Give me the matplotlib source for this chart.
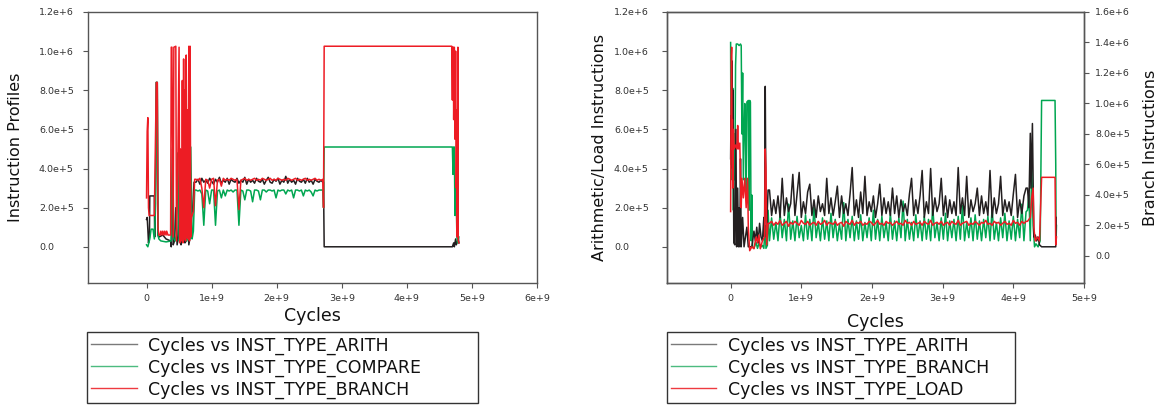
import numpy as np
import matplotlib
matplotlib.use('Agg')
import matplotlib.pyplot as plt
from matplotlib.lines import Line2D

plt.rcParams['font.family'] = ['DejaVu Sans']

# units: cycles in 1e9, instruction counts in 1e5
CYC = 1e9
INS = 1e5

BLACK = '#231f20'
GREEN = '#00a651'
RED = '#ed1c24'

# ---------------- left chart : Instruction Profiles ----------------
arith_l_start = [(0.0, 1.4), (0.01, 1.5), (0.02, 0.9), (0.03, 0.2), (0.045, 0.5), (0.05, 2.6),
                 (0.12, 2.6), (0.125, 0.5), (0.14, 4.0), (0.15, 8.4), (0.165, 8.4), (0.175, 0.6),
                 (0.19, 0.5), (0.25, 0.6), (0.3, 0.4), (0.37, 0.3), (0.38, 0.0), (0.40, 5.0),
                 (0.41, 0.1), (0.43, 0.3), (0.45, 2.0), (0.47, 0.1), (0.49, 0.5), (0.51, 4.5),
                 (0.53, 0.1), (0.55, 0.4), (0.57, 5.0), (0.59, 0.2), (0.61, 0.3), (0.63, 2.0),
                 (0.65, 0.1), (0.67, 0.5), (0.69, 1.5), (0.71, 2.0), (0.73, 3.3)]
arith_l_mid = [3.3, 3.45, 3.2, 3.5, 3.3, 3.4, 3.25, 3.5, 3.35, 3.2,
               3.45, 3.3, 3.55, 3.25, 3.4, 3.3, 3.5, 3.2, 3.45, 3.35,
               3.3, 3.5, 3.25, 3.4, 3.3, 3.55, 3.2, 3.45, 3.3, 3.4,
               3.25, 3.5, 3.35, 3.3, 3.45, 3.2, 3.4, 3.55, 3.3, 3.25,
               3.45, 3.35, 3.5, 3.2, 3.4, 3.3, 3.6, 3.25, 3.45, 3.3,
               3.4, 3.2, 3.5, 3.35, 3.3, 3.45, 3.25, 3.5, 3.3, 3.4,
               3.2, 3.45, 3.35, 3.3, 3.4, 3.3]
arith_l_end = [(2.72, 3.3), (2.725, 1.6), (2.73, 0.0), (4.70, 0.0), (4.72, 0.2), (4.73, 0.0),
               (4.75, 0.4), (4.76, 0.1), (4.78, 0.3), (4.79, 0.5), (4.80, 0.2)]

compare_l_start = [(0.0, 0.1), (0.02, 0.0), (0.035, 0.2), (0.05, 0.4), (0.07, 0.9), (0.10, 0.9),
                   (0.12, 0.4), (0.14, 2.2), (0.15, 8.4), (0.165, 8.4), (0.175, 0.6), (0.19, 0.4),
                   (0.22, 0.3), (0.30, 0.25), (0.38, 0.3), (0.40, 5.1), (0.42, 0.4), (0.44, 0.3),
                   (0.46, 0.6), (0.48, 4.8), (0.50, 0.3), (0.52, 0.5), (0.54, 1.0), (0.56, 0.4),
                   (0.58, 5.1), (0.60, 0.5), (0.62, 0.3), (0.64, 0.6), (0.66, 0.4), (0.68, 5.1),
                   (0.70, 0.4), (0.72, 0.8), (0.74, 2.9)]
compare_l_mid = [2.9, 2.85, 2.9, 2.7, 1.1, 2.9, 2.85, 2.2, 2.9, 2.9,
                 1.1, 2.85, 2.9, 2.5, 2.9, 2.6, 2.9, 2.85, 2.9, 2.8,
                 2.9, 2.9, 1.1, 2.9, 2.85, 2.4, 2.9, 2.9, 2.85, 2.3,
                 2.9, 2.9, 2.85, 2.4, 2.9, 2.9, 2.8, 2.9, 2.9, 2.85,
                 2.9, 2.5, 2.9, 2.85, 2.9, 2.9, 2.7, 2.9, 2.85, 2.9,
                 2.5, 2.9, 2.9, 2.85, 2.9, 2.6, 2.9, 2.85, 2.9, 2.8,
                 2.6, 2.9, 2.85, 2.9, 2.9, 2.9]
compare_l_end = [(2.72, 2.0), (2.73, 5.1), (4.70, 5.1), (4.71, 3.7), (4.72, 5.1), (4.73, 5.1),
                 (4.74, 1.6), (4.755, 3.0), (4.77, 0.5), (4.78, 0.2), (4.80, 0.5)]

branch_l_start = [(0.0, 2.5), (0.01, 5.9), (0.02, 6.6), (0.03, 2.0), (0.04, 1.6), (0.05, 1.6),
                  (0.12, 1.6), (0.13, 4.0), (0.15, 8.4), (0.165, 8.4), (0.175, 1.0), (0.19, 0.6),
                  (0.21, 0.6), (0.22, 0.8), (0.24, 0.6), (0.25, 0.8), (0.27, 0.6), (0.28, 0.8),
                  (0.30, 0.6), (0.31, 0.8), (0.33, 0.6), (0.37, 0.6), (0.38, 10.2), (0.39, 10.2),
                  (0.41, 0.5), (0.42, 10.2), (0.45, 10.25), (0.46, 0.3), (0.48, 4.0), (0.50, 10.2),
                  (0.51, 0.2), (0.52, 5.0), (0.54, 0.3), (0.55, 8.5), (0.56, 0.2), (0.57, 9.6),
                  (0.58, 0.4), (0.59, 8.0), (0.60, 0.3), (0.61, 9.8), (0.62, 0.5), (0.63, 7.0),
                  (0.64, 0.4), (0.65, 10.25), (0.66, 0.3), (0.67, 10.25), (0.68, 0.5), (0.69, 1.5),
                  (0.72, 1.8), (0.74, 3.45)]
branch_l_mid = [3.45, 3.4, 3.5, 3.0, 2.0, 3.45, 3.4, 3.0, 3.45, 3.5,
                2.1, 3.4, 3.45, 3.1, 3.5, 3.4, 3.45, 3.4, 3.5, 3.45,
                3.4, 3.45, 1.9, 3.4, 3.45, 3.5, 3.4, 3.45, 3.4, 3.45,
                3.5, 3.4, 3.45, 3.4, 3.5, 3.45, 3.4, 3.45, 3.5, 3.4,
                3.45, 3.4, 3.5, 3.45, 3.4, 3.45, 3.4, 3.5, 3.45, 3.4,
                3.45, 3.5, 3.4, 3.45, 3.4, 3.45, 3.5, 3.4, 3.45, 3.4,
                3.45, 3.5, 3.4, 3.45, 3.4, 3.45]
branch_l_end = [(2.72, 2.0), (2.73, 10.25), (4.69, 10.25), (4.70, 7.5), (4.705, 10.2), (4.71, 8.0),
                (4.715, 10.2), (4.72, 6.5), (4.73, 10.2), (4.74, 5.5), (4.75, 10.0), (4.76, 3.0),
                (4.77, 7.0), (4.775, 0.5), (4.785, 10.2), (4.79, 0.3), (4.80, 0.2)]

# ---------------- right chart : Arithmetic/Load vs Branch ----------------
arith_r_start = [(0.0, 4.5), (0.005, 6.7), (0.01, 5.0), (0.02, 9.5), (0.025, 4.0), (0.035, 8.0),
                 (0.045, 0.2), (0.06, 0.1), (0.075, 6.0), (0.085, 0.0), (0.10, 3.0), (0.11, 0.0),
                 (0.12, 2.0), (0.13, 0.0), (0.14, 4.5), (0.15, 0.0), (0.17, 1.5), (0.19, 0.0),
                 (0.23, 1.0), (0.25, 0.0), (0.30, 0.0), (0.33, 0.8), (0.35, 0.3), (0.37, 1.0),
                 (0.39, 0.2), (0.41, 1.2), (0.43, 0.5), (0.45, 0.3), (0.47, 1.5), (0.48, 0.5),
                 (0.49, 8.2), (0.50, 2.0), (0.51, 1.0), (0.53, 2.9)]
arith_r_mid = [2.9, 1.6, 2.4, 1.7, 2.6, 1.5, 3.5, 1.6, 2.5, 1.8,
               2.2, 3.7, 1.6, 2.7, 3.8, 1.5, 2.3, 1.7, 2.8, 3.2,
               1.6, 2.4, 1.5, 2.6, 1.8, 2.2, 1.6, 3.5, 1.7, 2.5,
               1.6, 2.3, 3.1, 1.5, 2.6, 1.7, 2.2, 1.6, 2.7, 4.05,
               1.6, 2.4, 1.5, 2.8, 1.7, 3.6, 1.6, 2.3, 1.8, 2.6,
               1.5, 2.2, 3.2, 1.6, 2.5, 1.7, 2.3, 1.6, 3.0, 1.7,
               2.6, 1.5, 2.4, 1.8, 2.2, 1.6, 2.7, 3.5, 1.6, 2.4,
               1.7, 2.6, 3.9, 1.5, 2.3, 1.7, 4.0, 1.6, 2.5, 1.8,
               2.2, 3.5, 1.6, 2.6, 1.5, 2.4, 1.7, 2.3, 1.6, 4.05,
               1.7, 2.5, 1.6, 3.6, 1.5, 2.4, 1.8, 2.2, 3.0, 1.6,
               2.6, 1.7, 2.3, 1.6, 3.9, 1.5, 2.5, 1.7, 2.2, 3.6,
               1.6, 2.4, 1.8, 2.3, 1.6, 2.7, 3.7, 1.5, 2.4, 1.7,
               2.6, 3.0]
arith_r_end = [(4.20, 3.0), (4.22, 2.0), (4.24, 5.8), (4.25, 3.0), (4.27, 6.3), (4.29, 0.5),
               (4.31, 0.6), (4.33, 0.3), (4.35, 0.5), (4.37, 0.1), (4.40, 0.0), (4.60, 0.0),
               (4.605, 1.5)]

load_r_start = [(0.0, 1.8), (0.005, 6.0), (0.01, 9.8), (0.015, 10.2), (0.02, 5.0), (0.025, 6.5),
                (0.03, 3.0), (0.04, 6.0), (0.05, 5.0), (0.07, 5.2), (0.09, 5.0), (0.10, 6.2),
                (0.11, 5.0), (0.13, 5.3), (0.14, 3.5), (0.15, 2.0), (0.16, 3.5), (0.18, 2.5),
                (0.20, 3.5), (0.22, 2.0), (0.24, 3.5), (0.25, 1.0), (0.27, -0.2), (0.30, 0.0),
                (0.33, -0.1), (0.36, 0.5), (0.38, 0.2), (0.40, 0.6), (0.42, -0.1), (0.45, 0.3),
                (0.48, 0.5), (0.49, 5.0), (0.50, 4.0), (0.51, 0.1), (0.53, 1.2)]
load_r_mid = [1.2, 1.3, 1.1, 1.25, 1.15, 1.35, 1.1, 1.2, 1.3, 1.05,
              1.25, 1.15, 1.3, 1.2, 1.1, 1.35, 1.2, 1.15, 1.3, 1.1,
              1.2, 1.25, 1.1, 1.3, 1.15, 1.2, 1.35, 1.1, 1.25, 1.2,
              1.15, 1.3, 1.1, 1.2, 1.25, 1.05, 1.3, 1.2, 1.15, 1.35,
              1.1, 1.25, 1.2, 1.3, 1.1, 1.2, 1.15, 1.3, 1.25, 1.1,
              1.2, 1.35, 1.15, 1.2, 1.1, 1.3, 1.2, 1.25, 1.1, 1.2,
              1.3, 1.15, 1.2, 1.1, 1.35, 1.2, 1.25, 1.1, 1.3, 1.15,
              1.2, 1.25, 1.1, 1.3, 1.2, 1.15, 1.35, 1.1, 1.2, 1.25,
              1.15, 1.3, 1.1, 1.2, 1.25, 1.1, 1.3, 1.2, 1.15, 1.35,
              1.1, 1.2, 1.25, 1.3, 1.1, 1.2, 1.15, 1.3, 1.2, 1.1,
              1.25, 1.2, 1.35, 1.15, 1.2, 1.1, 1.3, 1.2, 1.25, 1.1,
              1.2, 1.3, 1.15, 1.2, 1.1, 1.35, 1.2, 1.25, 1.1, 1.3,
              1.2, 1.3]
load_r_end = [(4.20, 1.3), (4.24, 1.5), (4.26, 2.5), (4.28, 3.0), (4.29, 1.0), (4.31, 0.3),
              (4.34, 0.5), (4.37, 0.3), (4.40, 3.55), (4.59, 3.55), (4.60, 0.1), (4.61, 0.5)]

# branch counts are on the right-hand axis
branch_r_start = [(0.0, 14.0), (0.005, 6.0), (0.01, 13.5), (0.02, 5.0), (0.03, 11.0), (0.04, 3.0),
                  (0.05, 8.0), (0.06, 5.0), (0.07, 12.5), (0.08, 13.9), (0.10, 13.9), (0.12, 13.8),
                  (0.14, 13.9), (0.15, 13.8), (0.16, 8.0), (0.17, 12.0), (0.18, 5.0), (0.20, 10.0),
                  (0.21, 8.5), (0.22, 4.0), (0.23, 10.1), (0.25, 10.2), (0.26, 3.0), (0.27, 10.2),
                  (0.28, 10.1), (0.29, 1.0), (0.30, 4.0), (0.31, 0.6), (0.33, 0.5), (0.36, 0.9),
                  (0.38, 0.5), (0.40, 0.8), (0.43, 0.6), (0.45, 0.7), (0.47, 0.5), (0.49, 2.0),
                  (0.50, 0.5), (0.52, 0.7), (0.53, 3.0)]
branch_r_mid = [1.0, 2.5, 1.1, 2.2, 1.0, 2.8, 1.2, 2.4, 1.0, 3.4,
                1.1, 2.3, 1.0, 2.6, 1.2, 2.0, 1.0, 2.7, 1.1, 2.4,
                1.0, 3.2, 1.2, 2.2, 1.0, 2.5, 1.1, 2.3, 1.0, 2.8,
                1.2, 2.4, 1.0, 2.1, 1.1, 3.5, 1.0, 2.4, 1.2, 2.6,
                1.0, 2.3, 1.1, 2.7, 1.0, 2.2, 1.2, 2.5, 1.0, 3.0,
                1.1, 2.4, 1.0, 2.6, 1.2, 2.2, 1.0, 2.8, 1.1, 2.3,
                1.0, 2.5, 1.2, 3.6, 1.0, 2.4, 1.1, 2.2, 1.0, 2.7,
                1.2, 2.3, 1.0, 2.6, 1.1, 2.4, 1.0, 3.2, 1.2, 2.2,
                1.0, 2.5, 1.1, 2.8, 1.0, 2.3, 1.2, 2.4, 1.0, 2.6,
                1.1, 3.3, 1.0, 2.2, 1.2, 2.5, 1.0, 2.7, 1.1, 2.3,
                1.0, 2.4, 1.2, 2.6, 1.0, 3.1, 1.1, 2.2, 1.0, 2.5,
                1.2, 2.8, 1.0, 2.3, 1.1, 2.6, 1.0, 2.4, 1.2, 3.4,
                1.0, 2.9]
branch_r_end = [(4.20, 3.0), (4.22, 4.0), (4.24, 1.0), (4.26, 6.0), (4.28, 2.0), (4.30, 0.6),
                (4.32, 0.8), (4.35, 0.6), (4.38, 1.0), (4.40, 10.2), (4.59, 10.2), (4.60, 6.0),
                (4.605, 1.0), (4.61, 2.0)]

# tick labels
y_ticks = [0, 2e5, 4e5, 6e5, 8e5, 1e6, 1.2e6]
y_labels = ['0.0', '2.0e+5', '4.0e+5', '6.0e+5', '8.0e+5', '1.0e+6', '1.2e+6']
y2_ticks = [0, 2e5, 4e5, 6e5, 8e5, 1e6, 1.2e6, 1.4e6, 1.6e6]
y2_labels = ['0.0', '2.0e+5', '4.0e+5', '6.0e+5', '8.0e+5', '1.0e+6', '1.2e+6', '1.4e+6', '1.6e+6']
x_ticks_l = [0, 1e9, 2e9, 3e9, 4e9, 5e9, 6e9]
x_labels_l = ['0', '1e+9', '2e+9', '3e+9', '4e+9', '5e+9', '6e+9']
x_ticks_r = [0, 1e9, 2e9, 3e9, 4e9, 5e9]
x_labels_r = ['0', '1e+9', '2e+9', '3e+9', '4e+9', '5e+9']

legend_l = ['Cycles vs INST_TYPE_ARITH', 'Cycles vs INST_TYPE_COMPARE', 'Cycles vs INST_TYPE_BRANCH']
legend_r = ['Cycles vs INST_TYPE_ARITH', 'Cycles vs INST_TYPE_BRANCH', 'Cycles vs INST_TYPE_LOAD']


def series(start, mid, end, x0, x1):
    # start/end are (cycle, count) pairs, the middle part is sampled evenly between x0 and x1
    xs = [p[0] for p in start] + list(np.linspace(x0, x1, len(mid))) + [p[0] for p in end]
    ys = [p[1] for p in start] + list(mid) + [p[1] for p in end]
    return np.array(xs) * CYC, np.array(ys) * INS


SPINE = '#555555'
TXT = '#333333'


def style(ax, xt, xl, ypad):
    for s in ax.spines.values():
        s.set_color(SPINE)
        s.set_linewidth(1.0)
    ax.set_yticks(y_ticks)
    ax.set_yticklabels(y_labels)
    ax.set_xticks(xt)
    ax.set_xticklabels(xl)
    ax.tick_params(axis='both', direction='out', length=3.6, width=0.8, color=SPINE,
                   labelsize=6.8, labelcolor=TXT)
    ax.tick_params(axis='y', pad=ypad)
    ax.tick_params(axis='x', pad=4.3)
    for t in ax.get_yticklabels():
        t.set_ha('left')


fig = plt.figure(figsize=(11.59, 4.08), dpi=100)

# left chart
ax = fig.add_axes([0.0759, 0.3064, 0.3874, 0.6642])
x, y = series(arith_l_start, arith_l_mid, arith_l_end, 0.76, 2.71)
ax.plot(x, y, color=BLACK, lw=1.1)
x, y = series(compare_l_start, compare_l_mid, compare_l_end, 0.76, 2.71)
ax.plot(x, y, color=GREEN, lw=1.1)
x, y = series(branch_l_start, branch_l_mid, branch_l_end, 0.76, 2.71)
ax.plot(x, y, color=RED, lw=1.1)
ax.set_xlim(-0.9e9, 6e9)
ax.set_ylim(-1.85e5, 1.2e6)
style(ax, x_ticks_l, x_labels_l, 31.7)
ax.set_ylabel('Instruction Profiles', fontsize=11.5, color='#111111')
ax.yaxis.set_label_coords(-0.145, 0.5)
ax.set_xlabel('Cycles', fontsize=12.5, color='#111111')
ax.xaxis.set_label_coords(0.5, -0.09)

# right chart
axr = fig.add_axes([0.5755, 0.3064, 0.3598, 0.6642])
axr2 = axr.twinx()
axr.set_zorder(axr2.get_zorder() + 1)
axr.patch.set_visible(False)
x, y = series(arith_r_start, arith_r_mid, arith_r_end, 0.55, 4.18)
axr.plot(x, y, color=BLACK, lw=1.1)
x, y = series(branch_r_start, branch_r_mid, branch_r_end, 0.55, 4.18)
axr2.plot(x, y, color=GREEN, lw=1.1)
x, y = series(load_r_start, load_r_mid, load_r_end, 0.55, 4.18)
axr.plot(x, y, color=RED, lw=1.1)
axr.set_xlim(-0.9e9, 5e9)
axr.set_ylim(-1.85e5, 1.2e6)
axr2.set_ylim(-1.77e5, 1.6e6)
style(axr, x_ticks_r, x_labels_r, 34.6)
axr.set_ylabel('Arithmetic/Load Instructions', fontsize=11.5, color='#111111')
axr.yaxis.set_label_coords(-0.144, 0.5)
axr.set_xlabel('Cycles', fontsize=12.5, color='#111111')
axr.xaxis.set_label_coords(0.5, -0.11)

for s in axr2.spines.values():
    s.set_color(SPINE)
    s.set_linewidth(1.0)
axr2.set_yticks(y2_ticks)
axr2.set_yticklabels(y2_labels)
axr2.tick_params(axis='y', direction='out', length=3.6, width=0.8, color=SPINE,
                 labelsize=6.8, labelcolor=TXT, pad=4.3)
axr2.set_ylabel('Branch Instructions', fontsize=11.5, color='#111111')
axr2.yaxis.set_label_coords(1.141, 0.5)

# legends (thin, light handles as in the original)
def handles(colors):
    return [Line2D([], [], color=c, lw=1.0) for c in colors]


leg_kw = dict(loc='upper left', mode='expand', borderaxespad=0, fontsize=12.5,
              handlelength=2.6, handletextpad=0.65, borderpad=0.25, labelspacing=0.22,
              fancybox=False, framealpha=1, edgecolor='#333333')
l1 = fig.legend(handles(['#7a7a7a', '#4cbb7f', '#ee3a40']), legend_l,
                bbox_to_anchor=(0.0751, 0.0, 0.3374, 0.1863), **leg_kw)
l2 = fig.legend(handles(['#7a7a7a', '#4cbb7f', '#ee3a40']), legend_r,
                bbox_to_anchor=(0.5755, 0.0, 0.3003, 0.1863), **leg_kw)
for lg in (l1, l2):
    lg.get_frame().set_linewidth(1.0)
    for t in lg.get_texts():
        t.set_color('#111111')

fig.savefig('out.png', dpi=100)
